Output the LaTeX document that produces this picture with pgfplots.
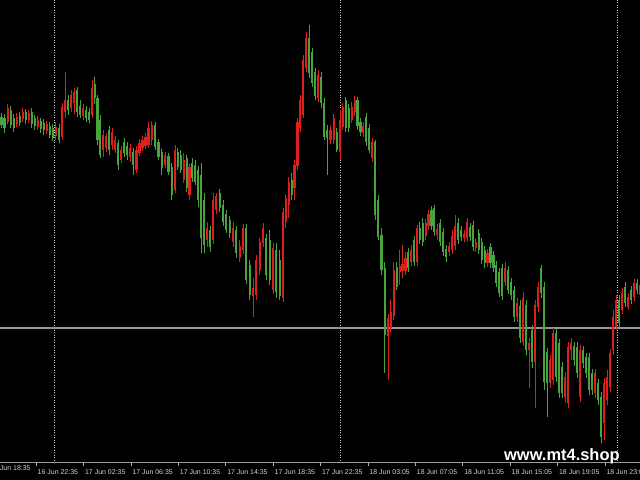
\documentclass[border=0pt]{standalone}
\usepackage{pgfplots}
\pgfplotsset{compat=1.18}
\usepackage{pgfplotstable}
\usepackage{fontspec}
\setmainfont{Liberation Sans}
\definecolor{bull}{RGB}{225,30,30}
\definecolor{bear}{RGB}{70,165,60}
\definecolor{ticktxt}{RGB}{210,210,210}
\definecolor{bidline}{RGB}{150,150,150}
\definecolor{sepline}{RGB}{205,205,205}

\pgfplotstableread{
x top bot hi lo up
1.5 117 125 113 128 0
4.5 118 128 114 133 0
7.6 108 122 104 124 1
10.6 110 125 106 128 0
13.6 118 128 114 132 0
16.6 117 124 113 127 1
19.7 116 123 112 126 0
22.7 112 119 108 122 1
25.7 112 120 109 124 0
28.7 113 120 110 123 1
31.8 112 124 108 128 0
34.8 118 126 115 130 0
37.8 120 127 116 130 1
40.8 121 129 118 133 0
43.9 123 130 119 135 0
46.9 124 131 121 134 1
49.9 126 135 122 138 0
52.9 128 138 124 141 0
55.9 127 136 122 140 1
59.0 128 140 124 143 0
62 107 137 103 140 1
65 100 112 72 118 1
68 100 110 95 115 0
71 95 108 90 112 1
74 92 103 88 114 1
77 90 112 87 117 0
80 106 115 100 118 0
83 108 116 104 120 1
86 110 118 106 122 0
89 112 120 108 123 0
92 88 115 80 118 1
94.8 84 98 77 104 0
97.5 98 140 95 145 0
100.3 120 155 115 158 0
103 135 150 130 157 1
106 136 148 133 152 1
109.1 130 150 126 155 0
112.1 132 145 128 150 1
115.1 140 150 136 153 1
118.1 143 165 140 170 0
121.2 150 160 146 163 1
124.2 142 153 138 157 0
127.2 146 155 142 160 0
130.3 148 157 144 162 1
133.3 152 165 148 175 0
136.4 150 170 146 173 1
139.4 143 153 139 156 1
142.4 140 148 136 151 1
145.5 137 146 133 149 1
148.5 128 145 122 148 1
151.8 125 140 121 145 1
155.1 125 147 122 150 0
158.4 142 157 139 160 0
161.7 152 168 149 175 0
165.1 155 165 152 168 1
168.4 156 172 153 175 0
171.7 167 195 163 200 0
175 150 190 145 193 1
177.9 152 167 148 170 0
180.8 155 170 150 173 0
183.7 160 180 153 183 1
186.6 158 188 155 192 0
189.4 167 195 164 200 1
192.3 163 178 158 182 0
195.2 165 182 160 185 0
198.1 170 200 166 207 0
201 175 238 163 253 0
204 200 245 193 253 0
207 228 240 222 247 1
210 230 247 226 252 0
213 200 240 193 244 1
216.3 196 210 193 214 1
219.7 193 208 189 212 0
223 205 222 200 226 0
226.3 214 230 210 233 0
229.7 220 233 216 238 0
233 228 242 222 247 1
236.3 230 253 226 258 0
239.7 246 258 240 262 1
243 228 250 224 254 1
246.3 228 280 224 284 0
249.7 265 295 260 300 0
253 288 296 278 317 1
256.3 260 295 255 300 1
259.7 242 270 238 275 1
263 228 243 223 247 1
266.3 238 275 234 280 0
269.7 240 280 230 285 0
273 248 290 243 294 1
276.3 250 292 243 298 0
279.7 260 296 250 300 0
283 212 298 208 302 1
285.9 198 222 195 228 1
288.8 182 205 177 218 1
291.6 180 195 173 200 0
294.5 165 188 160 200 1
297.4 122 166 118 170 1
300.3 100 128 95 132 1
303.1 60 115 55 118 1
306 38 68 32 72 1
309 38 73 25 78 0
312 52 83 48 87 0
315 72 96 68 100 0
318 75 98 70 102 1
321 77 103 72 108 0
324 103 137 98 140 0
327.2 130 138 125 175 0
330.4 130 140 126 144 1
333.6 118 140 114 144 1
336.8 132 150 128 152 0
340 120 152 110 160 1
342.9 107 127 103 130 1
345.8 100 128 97 132 0
348.8 108 128 104 132 0
351.7 107 120 102 123 1
354.6 100 112 96 116 1
357.5 100 126 97 130 0
360.4 122 132 118 136 0
363.3 126 133 122 137 1
366.3 117 142 113 146 0
369.2 128 150 124 153 0
372.1 142 158 138 162 1
375 142 215 140 220 0
378.3 200 237 195 240 0
381.5 235 270 228 275 0
384.8 268 335 262 373 0
388 318 336 314 380 1
390.9 312 328 300 333 1
393.8 270 316 262 320 1
396.7 267 287 262 290 0
399.6 266 272 250 285 1
402.5 264 271 245 278 1
405.4 258 271 252 275 1
408.3 252 268 248 272 0
411.2 250 262 245 266 1
414.1 240 262 236 266 0
417 228 262 225 266 1
419.9 228 240 222 244 0
422.8 223 242 218 246 0
425.6 223 236 219 240 1
428.5 214 226 210 230 1
431.4 210 226 206 230 0
434.3 208 232 205 236 0
437.1 229 235 224 240 1
440 223 242 219 246 0
443 232 252 228 256 0
446 249 257 245 262 0
449 246 252 242 256 1
452 236 250 230 254 1
455 226 246 215 250 1
458 223 240 218 244 0
461 230 237 226 241 0
464 234 238 230 242 1
467 222 238 218 242 1
470 227 237 223 241 0
473 225 247 221 251 0
475.9 242 248 238 252 1
478.8 233 250 229 254 0
481.7 242 260 238 264 0
484.6 250 263 246 268 0
487.5 253 263 249 267 1
490.5 247 263 243 268 0
493.4 255 268 251 272 0
496.3 265 283 261 287 0
499.2 272 293 268 297 0
502.1 268 296 264 300 0
505 268 282 262 286 1
508 270 290 266 294 0
511 282 295 278 300 0
514 290 317 286 322 0
517 303 317 298 322 1
520 306 338 300 343 0
523 298 342 292 346 1
526 305 350 300 355 0
529 343 350 338 388 1
532 330 362 325 368 0
535 305 362 300 408 1
538 287 307 282 312 1
541 268 293 265 298 0
544 287 382 282 390 0
547 352 383 348 417 0
550 360 383 355 388 1
553 333 380 328 385 1
556 333 377 329 382 0
559 343 393 339 398 0
562 367 393 362 398 0
565 377 397 372 402 1
568 347 403 342 408 1
571 343 350 338 360 1
574 346 360 342 366 0
577 347 373 342 378 0
580 350 397 345 402 1
583 350 363 346 368 0
586 357 373 353 378 0
589 357 390 353 395 0
592 373 390 369 395 0
595 373 393 369 398 1
598 383 400 379 405 0
601 397 437 392 443 0
604 383 423 378 440 1
607 377 400 370 405 1
610 353 387 349 392 1
613 317 350 310 355 1
616 300 327 295 330 1
619 300 323 295 327 0
622 293 310 288 314 1
625 287 303 282 307 0
628 297 307 293 310 1
631 290 300 286 304 0
634 283 297 279 301 1
637 283 290 279 294 0
640 285 295 281 300 1
}\candles

\begin{document}
\begin{tikzpicture}[x=1bp,y=1bp]
\fill[black] (0,-18) rectangle (640,462);
\begin{axis}[
  at={(0,0)}, anchor=south west, scale only axis,
  width=640bp, height=462bp,
  xmin=0, xmax=640, ymin=-462, ymax=0,
  clip=false,
  axis line style={draw=none},
  ytick=\empty,
  xtick={36,83.4,130.8,178.2,225.6,273,320.4,367.8,415.2,462.6,510,557.4,604.8},
  xticklabels={16 Jun 22:35,17 Jun 02:35,17 Jun 06:35,17 Jun 10:35,17 Jun 14:35,17 Jun 18:35,17 Jun 22:35,18 Jun 03:05,18 Jun 07:05,18 Jun 11:05,18 Jun 15:05,18 Jun 19:05,18 Jun 23:05},
  xtick pos=left,
  tick align=outside,
  major tick length=4bp,
  tick style={draw=white!70!black, line width=0.6bp},
  xticklabel style={anchor=base west, inner sep=0pt, xshift=1.5bp, yshift=-9bp, text=ticktxt, font=\fontsize{7}{8}\selectfont},
]
\draw[sepline, line width=0.8bp, dash pattern=on 0.9bp off 1.6bp] (axis cs:54,0) -- (axis cs:54,-462);
\draw[sepline, line width=0.8bp, dash pattern=on 0.9bp off 1.6bp] (axis cs:340,0) -- (axis cs:340,-462);
\draw[sepline, line width=0.8bp, dash pattern=on 0.9bp off 1.6bp] (axis cs:617,0) -- (axis cs:617,-462);
\draw[bidline, line width=1.1bp] (axis cs:0,-328) -- (axis cs:640,-328);
\draw[white!60!black, line width=0.8bp] (axis cs:0,-462) -- (axis cs:640,-462);

% wicks
\addplot[draw=none, mark=none, forget plot,
  restrict expr to domain={\thisrow{up}}{0.5:1.5},
  error bars/.cd, y dir=both, y explicit, error mark=none,
  error bar style={draw=bull, line width=0.9bp}]
  table[x=x, y expr={-(\thisrow{hi}+\thisrow{lo})/2}, y error expr={(\thisrow{lo}-\thisrow{hi})/2}] {\candles};
\addplot[draw=none, mark=none, forget plot,
  restrict expr to domain={\thisrow{up}}{-0.5:0.5},
  error bars/.cd, y dir=both, y explicit, error mark=none,
  error bar style={draw=bear, line width=0.9bp}]
  table[x=x, y expr={-(\thisrow{hi}+\thisrow{lo})/2}, y error expr={(\thisrow{lo}-\thisrow{hi})/2}] {\candles};
% bodies
\addplot[draw=none, mark=none, forget plot,
  restrict expr to domain={\thisrow{up}}{0.5:1.5},
  error bars/.cd, y dir=both, y explicit, error mark=none,
  error bar style={draw=bull, line width=2.2bp}]
  table[x=x, y expr={-(\thisrow{top}+\thisrow{bot})/2}, y error expr={max((\thisrow{bot}-\thisrow{top})/2,0.6)}] {\candles};
\addplot[draw=none, mark=none, forget plot,
  restrict expr to domain={\thisrow{up}}{-0.5:0.5},
  error bars/.cd, y dir=both, y explicit, error mark=none,
  error bar style={draw=bear, line width=2.2bp}]
  table[x=x, y expr={-(\thisrow{top}+\thisrow{bot})/2}, y error expr={max((\thisrow{bot}-\thisrow{top})/2,0.6)}] {\candles};

\node[anchor=base west, inner sep=0pt, text=ticktxt, font=\fontsize{7}{8}\selectfont] at (axis cs:-9.9,-471) {16 Jun 18:35};
\node[anchor=base west, inner sep=0pt, text=white, font=\fontsize{16.5}{18}\selectfont\bfseries] at (axis cs:504,-461) {www.mt4.shop};
\end{axis}
\pgfresetboundingbox
\path (0,-18) rectangle (640,462);
\end{tikzpicture}
\end{document}
